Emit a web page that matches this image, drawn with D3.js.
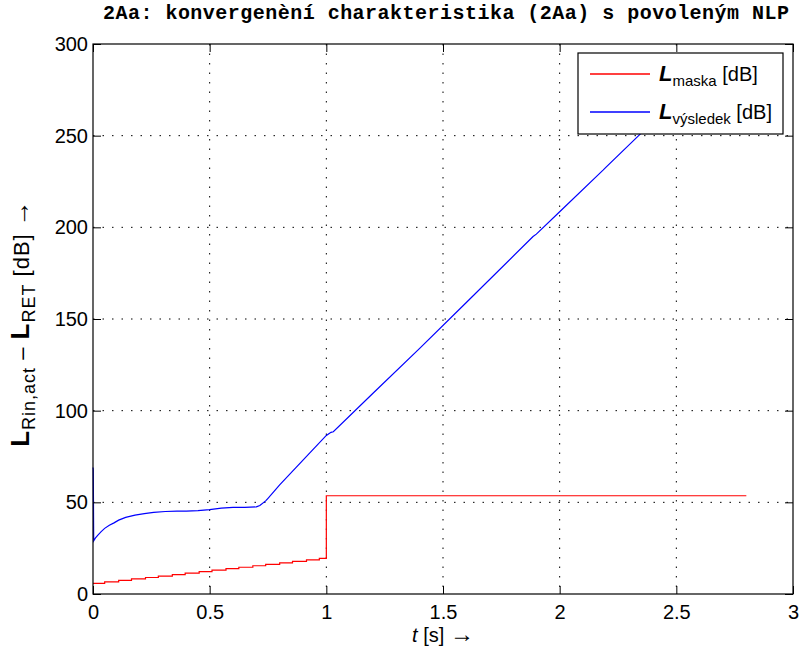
<!DOCTYPE html>
<html lang="cs">
<head>
  <meta charset="UTF-8">
  <title>2Aa: konvergenční charakteristika</title>
  <style>
      body { margin: 0; background: #fff; }
      svg { display: block; font-family: "Liberation Sans", Arial, sans-serif; }
      .axis path { display: none; }
      .axis line { stroke: #000; }
      .axis text { font-size: 20px; fill: #000; font-family: "Liberation Sans", Arial, sans-serif; }
      .grid line { stroke: #000; stroke-dasharray: 1.5,8; }
  </style>
</head>
<body>
<div id="chart"></div>
<script src="https://d3js.org/d3.v7.min.js"></script>
<script>
  // t [s] and value [dB]
  const blueT = [0, 0.001, 0.002, 0.003, 0.01, 0.02, 0.035, 0.05, 0.07, 0.09, 0.11, 0.14, 0.18, 0.22, 0.26,
    0.31, 0.36, 0.4, 0.45, 0.5, 0.55, 0.6, 0.65, 0.7, 0.715, 0.74, 0.75, 0.8, 0.9, 1.0, 1.02, 1.03,
    1.2, 1.4, 1.6, 1.886, 1.9, 2.0, 2.186, 2.2, 2.334, 2.5, 2.65];
  const blueV = [69, 68, 50, 29, 30.5, 32, 34, 35.8, 37.5, 38.8, 40.3, 41.8, 43, 43.8, 44.5,
    45, 45.2, 45.2, 45.5, 46, 46.8, 47.2, 47.3, 47.5, 48.3, 50.8, 52.2, 59.5, 73, 86.5, 88.2, 88.5,
    109.5, 134, 159, 195, 196.3, 208.5, 231.2, 233, 249.5, 270, 288];

  const redT = [0, 0.05, 0.11, 0.165, 0.225, 0.28, 0.34, 0.395, 0.455, 0.51, 0.57, 0.625, 0.685,
    0.74, 0.8, 0.855, 0.915, 0.97, 1.0, 2.8];
  const redV = [5.8, 6.6, 7.4, 8.2, 9.0, 9.8, 10.6, 11.4, 12.2, 13.0, 13.8, 14.6, 15.4,
    16.2, 17.0, 17.8, 18.6, 19.4, 53.6, 53.6];

  const xTicks = [0, 0.5, 1, 1.5, 2, 2.5, 3];
  const yTicks = [0, 50, 100, 150, 200, 250, 300];

  const W = 800, H = 650;
  const margin = {top: 44, right: 7, bottom: 56, left: 93},
    width = W - margin.left - margin.right,
    height = H - margin.top - margin.bottom;

  const svg = d3.select("#chart").append("svg")
    .attr("width", W)
    .attr("height", H);

  const g = svg.append("g")
    .attr("transform", `translate(${margin.left},${margin.top})`);

  const x = d3.scaleLinear().domain([0, 3]).range([0, width]);
  const y = d3.scaleLinear().domain([0, 300]).range([height, 0]);

  // dotted grid
  g.append("g").attr("class", "grid")
    .selectAll("line").data(xTicks.slice(1, -1)).enter().append("line")
    .attr("x1", d => x(d)).attr("x2", d => x(d))
    .attr("y1", 0).attr("y2", height);
  g.append("g").attr("class", "grid")
    .selectAll("line").data(yTicks.slice(1, -1)).enter().append("line")
    .attr("y1", d => y(d)).attr("y2", d => y(d))
    .attr("x1", 0).attr("x2", width);

  // lines
  const line = d3.line().x(d => x(d[0])).y(d => y(d[1]));
  g.append("path")
    .datum(redT.map((t, i) => [t, redV[i]]))
    .attr("fill", "none").attr("stroke", "#ff0000").attr("stroke-width", 1.2)
    .attr("d", line.curve(d3.curveStepAfter));
  g.append("path")
    .datum(blueT.map((t, i) => [t, blueV[i]]))
    .attr("fill", "none").attr("stroke", "#0000ff").attr("stroke-width", 1.2)
    .attr("d", line.curve(d3.curveLinear));

  // axes, ticks pointing inside
  g.append("g").attr("class", "axis")
    .attr("transform", `translate(0,${height})`)
    .call(d3.axisBottom(x).tickValues(xTicks).tickSizeInner(-8).tickSizeOuter(0)
      .tickPadding(11).tickFormat(d3.format("")));
  g.append("g").attr("class", "axis")
    .call(d3.axisTop(x).tickValues(xTicks).tickSizeInner(-8).tickSizeOuter(0).tickFormat(""));
  g.append("g").attr("class", "axis")
    .call(d3.axisLeft(y).tickValues(yTicks).tickSizeInner(-8).tickSizeOuter(0)
      .tickPadding(5).tickFormat(d3.format("")));
  g.append("g").attr("class", "axis")
    .attr("transform", `translate(${width},0)`)
    .call(d3.axisRight(y).tickValues(yTicks).tickSizeInner(-8).tickSizeOuter(0).tickFormat(""));

  g.append("rect")
    .attr("width", width).attr("height", height)
    .attr("fill", "none").attr("stroke", "#000").attr("stroke-width", 1.2);

  // legend
  const legend = g.append("g").attr("transform", `translate(${width - 215},9)`);
  legend.append("rect")
    .attr("width", 205).attr("height", 81)
    .attr("fill", "#fff").attr("stroke", "#000").attr("stroke-width", 1.2);
  const legItems = [
    {sub: "maska", color: "#ff0000"},
    {sub: "výsledek", color: "#0000ff"}
  ];
  legItems.forEach((it, i) => {
    const yy = 21 + i * 38;
    legend.append("line")
      .attr("x1", 12).attr("x2", 72).attr("y1", yy).attr("y2", yy)
      .style("stroke", it.color).attr("stroke-width", 1.3);
    const t = legend.append("text").attr("x", 81).attr("y", yy + 7).attr("font-size", 20);
    t.append("tspan").attr("font-weight", "bold").attr("font-style", "italic").attr("font-size", 22).text("L");
    t.append("tspan").attr("font-size", 15).attr("dy", 5).text(it.sub);
    t.append("tspan").attr("dy", -5).text(" [dB]");
  });

  // title
  svg.append("text")
    .attr("x", 446).attr("y", 19)
    .attr("text-anchor", "middle")
    .attr("textLength", 686).attr("lengthAdjust", "spacing")
    .style("font-family", "'Liberation Mono', 'Courier New', monospace")
    .style("font-weight", "bold")
    .style("font-size", "20px")
    .text("2Aa: konvergenèní charakteristika (2Aa) s povoleným NLP");

  // axis labels
  const xl = svg.append("text")
    .attr("x", margin.left + width / 2).attr("y", 642)
    .attr("text-anchor", "middle").attr("font-size", 20);
  xl.append("tspan").attr("font-style", "italic").text("t");
  xl.append("tspan").text(" [s] ");
  xl.append("tspan").attr("font-size", 24).text("\u2192");

  const yl = svg.append("text")
    .attr("transform", `translate(29,${margin.top + height / 2 + 4}) rotate(-90)`)
    .attr("text-anchor", "middle").attr("font-size", 22)
    .attr("letter-spacing", 1);
  yl.append("tspan").attr("font-weight", "bold").attr("font-size", 26).text("L");
  yl.append("tspan").attr("font-size", 18).attr("dy", 6).text("Rin,act");
  yl.append("tspan").attr("dy", -6).text(" \u2013 ");
  yl.append("tspan").attr("font-weight", "bold").attr("font-size", 26).text("L");
  yl.append("tspan").attr("font-size", 18).attr("dy", 6).text("RET");
  yl.append("tspan").attr("dy", -6).text(" [dB] ");
  yl.append("tspan").attr("font-size", 26).text("\u2192");
</script>
</body>
</html>
